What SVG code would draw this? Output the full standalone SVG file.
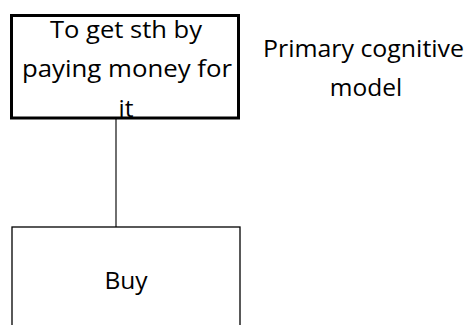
<svg xmlns="http://www.w3.org/2000/svg" width="472" height="325" viewBox="0 0 472 325">
<style>
text{font-family:"Open Sans","Liberation Sans",sans-serif;font-size:24.5px;fill:#000;text-anchor:middle}
.box{fill:#fff;stroke:#000}
</style>
<rect width="472" height="325" fill="#fff"/>
<g id="connectors">
<line x1="116" y1="118" x2="116" y2="227" stroke="#222" stroke-width="1.3"/>
</g>
<g id="node-top">
<rect class="box" x="11.5" y="15.5" width="227" height="102.5" stroke-width="3"/>
<text x="126" y="38" textLength="152" lengthAdjust="spacingAndGlyphs">To get sth by</text>
<text x="127" y="77" textLength="210" lengthAdjust="spacingAndGlyphs">paying money for</text>
<text x="126" y="117">it</text>
</g>
<g id="node-buy">
<rect class="box" x="12" y="227" width="228" height="110" stroke-width="1.3"/>
<text x="126" y="289">Buy</text>
</g>
<g id="label">
<text x="363.5" y="57" textLength="201" lengthAdjust="spacingAndGlyphs">Primary cognitive</text>
<text x="366" y="96">model</text>
</g>
</svg>
